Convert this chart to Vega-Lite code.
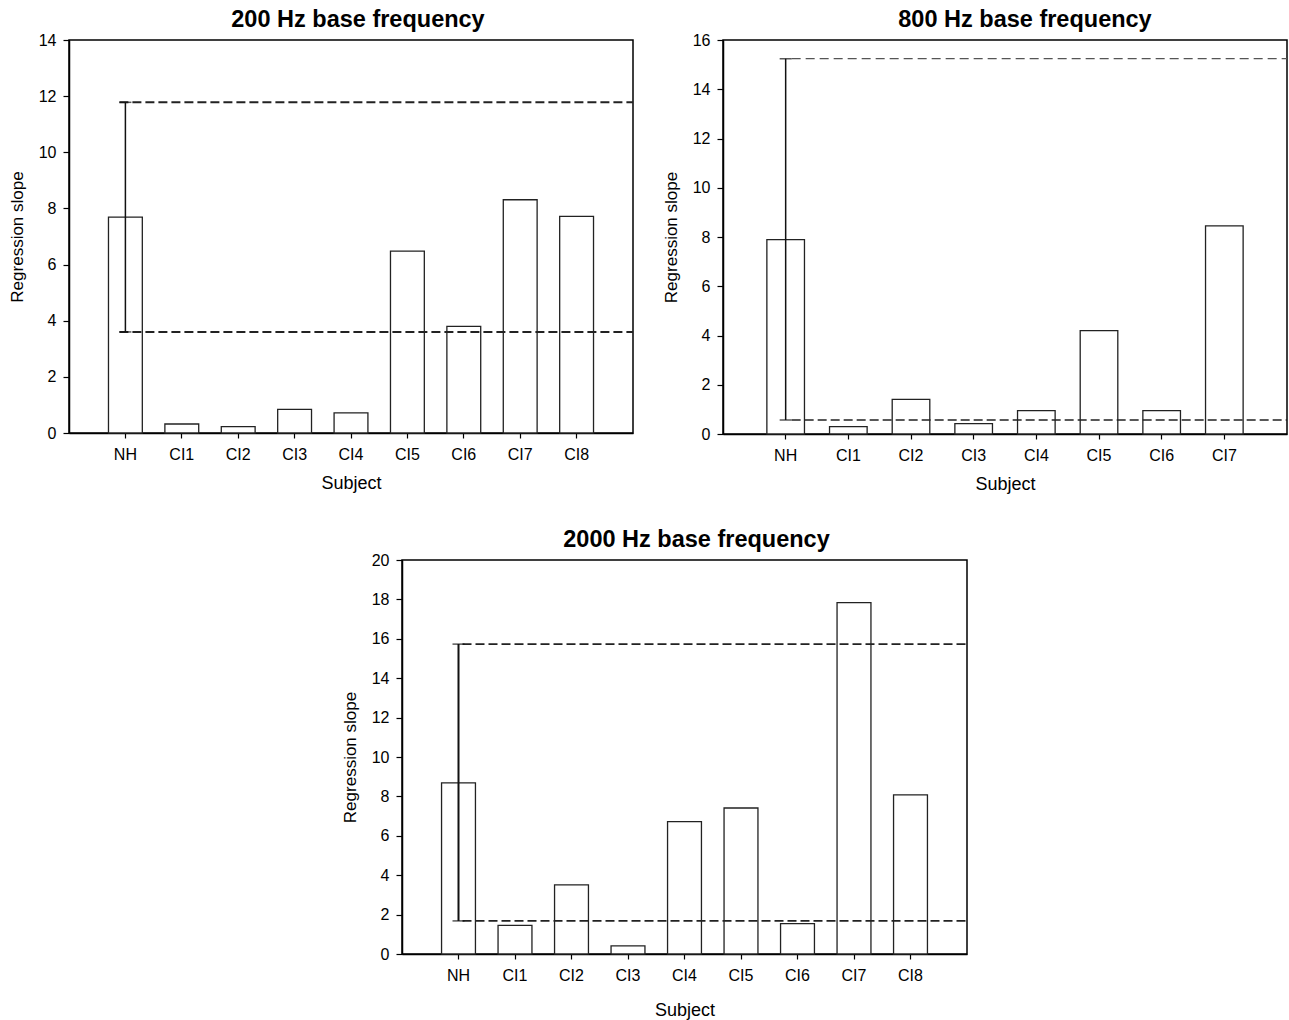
{
  "$schema": "https://vega.github.io/schema/vega-lite/v6.json",
  "padding": {"left": 7, "top": 6, "right": 0, "bottom": 0},
  "background": "white",
  "config": {
    "font": "Liberation Sans",
    "view": {"stroke": "#000", "strokeWidth": 1.5},
    "axis": {"domainColor": "#000", "domainWidth": 1.5, "tickColor": "#000", "tickWidth": 1.2, "labelColor": "#000", "titleColor": "#000", "labelFont": "Liberation Sans", "titleFont": "Liberation Sans", "labelFontSize": 16, "titleFontSize": 17, "titleFontWeight": "normal", "grid": false, "labelOverlap": false},
    "axisX": {"labelAngle": 0, "tickSize": 5, "labelPadding": 8, "titlePadding": 12, "titleFontSize": 18},
    "axisY": {"tickSize": 6, "labelPadding": 7, "titlePadding": 12},
    "title": {"font": "Liberation Sans", "fontSize": 23.5, "fontWeight": "bold", "color": "#000", "anchor": "middle", "offset": 1}
  },
  "datasets": {
    "f200": [
      {"subject": "NH", "slope": 7.69, "lo": 3.6, "hi": 11.78},
      {"subject": "CI1", "slope": 0.32},
      {"subject": "CI2", "slope": 0.23},
      {"subject": "CI3", "slope": 0.84},
      {"subject": "CI4", "slope": 0.72},
      {"subject": "CI5", "slope": 6.48},
      {"subject": "CI6", "slope": 3.8},
      {"subject": "CI7", "slope": 8.31},
      {"subject": "CI8", "slope": 7.72}
    ],
    "f800": [
      {"subject": "NH", "slope": 7.89, "lo": 0.57, "hi": 15.24},
      {"subject": "CI1", "slope": 0.3},
      {"subject": "CI2", "slope": 1.41},
      {"subject": "CI3", "slope": 0.42},
      {"subject": "CI4", "slope": 0.95},
      {"subject": "CI5", "slope": 4.2},
      {"subject": "CI6", "slope": 0.95},
      {"subject": "CI7", "slope": 8.45}
    ],
    "f2000": [
      {"subject": "NH", "slope": 8.69, "lo": 1.68, "hi": 15.73},
      {"subject": "CI1", "slope": 1.45},
      {"subject": "CI2", "slope": 3.51},
      {"subject": "CI3", "slope": 0.41},
      {"subject": "CI4", "slope": 6.72},
      {"subject": "CI5", "slope": 7.41},
      {"subject": "CI6", "slope": 1.54},
      {"subject": "CI7", "slope": 17.84},
      {"subject": "CI8", "slope": 8.08}
    ]
  },
  "spacing": 32,
  "vconcat": [
    {
      "spacing": 26,
      "hconcat": [
        {
          "title": {"text": "200 Hz base frequency", "dx": 7},
          "width": 564, "height": 393,
          "data": {"name": "f200"},
          "encoding": {"x": {"field": "subject", "type": "nominal", "sort": null, "scale": {"paddingInner": 0.4, "paddingOuter": 0.7}, "axis": {"title": "Subject"}}},
          "layer": [
            {"mark": {"type": "bar", "fill": "white", "stroke": "#222", "strokeWidth": 1.3},
             "encoding": {"y": {"field": "slope", "type": "quantitative", "scale": {"domain": [0, 14], "nice": false}, "axis": {"title": "Regression slope", "values": [0, 2, 4, 6, 8, 10, 12, 14], "labelOverlap": false}}}},
            {"transform": [{"filter": "isValid(datum.hi)"}], "mark": {"type": "rule", "strokeDash": [9, 4], "strokeWidth": 2, "color": "#222", "xOffset": -6},
             "encoding": {"y": {"field": "hi", "type": "quantitative", "axis": {"title": "Regression slope", "values": [0, 2, 4, 6, 8, 10, 12, 14], "labelOverlap": false}}, "x2": {"value": "width"}}},
            {"transform": [{"filter": "isValid(datum.lo)"}], "mark": {"type": "rule", "strokeDash": [9, 4], "strokeWidth": 2, "color": "#222", "xOffset": -6},
             "encoding": {"y": {"field": "lo", "type": "quantitative", "axis": {"title": "Regression slope", "values": [0, 2, 4, 6, 8, 10, 12, 14], "labelOverlap": false}}, "x2": {"value": "width"}}},
            {"transform": [{"filter": "isValid(datum.lo)"}], "mark": {"type": "rule", "strokeWidth": 1.5, "color": "#111"},
             "encoding": {"y": {"field": "lo", "type": "quantitative", "axis": {"title": "Regression slope", "values": [0, 2, 4, 6, 8, 10, 12, 14], "labelOverlap": false}}, "y2": {"field": "hi"}}},
            {"transform": [{"filter": "isValid(datum.lo)"}], "mark": {"type": "tick", "size": 12, "thickness": 1.5, "color": "#111"},
             "encoding": {"y": {"field": "lo", "type": "quantitative", "axis": {"title": "Regression slope", "values": [0, 2, 4, 6, 8, 10, 12, 14], "labelOverlap": false}}}},
            {"transform": [{"filter": "isValid(datum.hi)"}], "mark": {"type": "tick", "size": 12, "thickness": 1.5, "color": "#111"},
             "encoding": {"y": {"field": "hi", "type": "quantitative", "axis": {"title": "Regression slope", "values": [0, 2, 4, 6, 8, 10, 12, 14], "labelOverlap": false}}}}
          ]
        },
        {
          "title": {"text": "800 Hz base frequency", "dx": 20},
          "width": 564, "height": 394,
          "data": {"name": "f800"},
          "encoding": {"x": {"field": "subject", "type": "nominal", "sort": null, "scale": {"paddingInner": 0.4, "paddingOuter": 0.7}, "axis": {"title": "Subject"}}},
          "layer": [
            {"mark": {"type": "bar", "fill": "white", "stroke": "#222", "strokeWidth": 1.3},
             "encoding": {"y": {"field": "slope", "type": "quantitative", "scale": {"domain": [0, 16], "nice": false}, "axis": {"title": "Regression slope", "values": [0, 2, 4, 6, 8, 10, 12, 14, 16], "labelOverlap": false}}}},
            {"transform": [{"filter": "isValid(datum.hi)"}], "mark": {"type": "rule", "strokeDash": [9, 5], "strokeWidth": 1.2, "color": "#555", "xOffset": 6},
             "encoding": {"y": {"field": "hi", "type": "quantitative", "axis": {"title": "Regression slope", "values": [0, 2, 4, 6, 8, 10, 12, 14, 16], "labelOverlap": false}}, "x2": {"value": "width"}}},
            {"transform": [{"filter": "isValid(datum.lo)"}], "mark": {"type": "rule", "strokeDash": [9, 4], "strokeWidth": 1.6, "color": "#222", "xOffset": 6},
             "encoding": {"y": {"field": "lo", "type": "quantitative", "axis": {"title": "Regression slope", "values": [0, 2, 4, 6, 8, 10, 12, 14, 16], "labelOverlap": false}}, "x2": {"value": "width"}}},
            {"transform": [{"filter": "isValid(datum.lo)"}], "mark": {"type": "rule", "strokeWidth": 1.5, "color": "#111"},
             "encoding": {"y": {"field": "lo", "type": "quantitative", "axis": {"title": "Regression slope", "values": [0, 2, 4, 6, 8, 10, 12, 14, 16], "labelOverlap": false}}, "y2": {"field": "hi"}}},
            {"transform": [{"filter": "isValid(datum.lo)"}], "mark": {"type": "tick", "size": 12, "thickness": 1.5, "color": "#111"},
             "encoding": {"y": {"field": "lo", "type": "quantitative", "axis": {"title": "Regression slope", "values": [0, 2, 4, 6, 8, 10, 12, 14, 16], "labelOverlap": false}}}},
            {"transform": [{"filter": "isValid(datum.hi)"}], "mark": {"type": "tick", "size": 12, "thickness": 1.5, "color": "#111"},
             "encoding": {"y": {"field": "hi", "type": "quantitative", "axis": {"title": "Regression slope", "values": [0, 2, 4, 6, 8, 10, 12, 14, 16], "labelOverlap": false}}}}
          ]
        }
      ]
    },
    {
      "spacing": 0,
      "hconcat": [
        {
          "width": 271, "height": 10,
          "data": {"values": [{"subject": "spacer"}]},
          "mark": {"type": "point", "opacity": 0},
          "view": {"stroke": null}
        },
        {
          "title": {"text": "2000 Hz base frequency", "dx": 12},
          "width": 565, "height": 394,
          "data": {"name": "f2000"},
          "encoding": {"x": {"field": "subject", "type": "nominal", "sort": null, "scale": {"paddingInner": 0.4, "paddingOuter": 0.7}, "axis": {"title": "Subject", "titlePadding": 18}}},
          "layer": [
            {"mark": {"type": "bar", "fill": "white", "stroke": "#222", "strokeWidth": 1.3},
             "encoding": {"y": {"field": "slope", "type": "quantitative", "scale": {"domain": [0, 20], "nice": false}, "axis": {"title": "Regression slope", "values": [0, 2, 4, 6, 8, 10, 12, 14, 16, 18, 20], "labelOverlap": false}}}},
            {"transform": [{"filter": "isValid(datum.hi)"}], "mark": {"type": "rule", "strokeDash": [9, 4], "strokeWidth": 1.6, "color": "#222", "xOffset": 4},
             "encoding": {"y": {"field": "hi", "type": "quantitative", "axis": {"title": "Regression slope", "values": [0, 2, 4, 6, 8, 10, 12, 14, 16, 18, 20], "labelOverlap": false}}, "x2": {"value": "width"}}},
            {"transform": [{"filter": "isValid(datum.lo)"}], "mark": {"type": "rule", "strokeDash": [9, 4], "strokeWidth": 1.6, "color": "#222", "xOffset": 4},
             "encoding": {"y": {"field": "lo", "type": "quantitative", "axis": {"title": "Regression slope", "values": [0, 2, 4, 6, 8, 10, 12, 14, 16, 18, 20], "labelOverlap": false}}, "x2": {"value": "width"}}},
            {"transform": [{"filter": "isValid(datum.lo)"}], "mark": {"type": "rule", "strokeWidth": 2, "color": "#111"},
             "encoding": {"y": {"field": "lo", "type": "quantitative", "axis": {"title": "Regression slope", "values": [0, 2, 4, 6, 8, 10, 12, 14, 16, 18, 20], "labelOverlap": false}}, "y2": {"field": "hi"}}},
            {"transform": [{"filter": "isValid(datum.lo)"}], "mark": {"type": "tick", "size": 12, "thickness": 1.5, "color": "#111"},
             "encoding": {"y": {"field": "lo", "type": "quantitative", "axis": {"title": "Regression slope", "values": [0, 2, 4, 6, 8, 10, 12, 14, 16, 18, 20], "labelOverlap": false}}}},
            {"transform": [{"filter": "isValid(datum.hi)"}], "mark": {"type": "tick", "size": 12, "thickness": 1.5, "color": "#111"},
             "encoding": {"y": {"field": "hi", "type": "quantitative", "axis": {"title": "Regression slope", "values": [0, 2, 4, 6, 8, 10, 12, 14, 16, 18, 20], "labelOverlap": false}}}}
          ]
        }
      ]
    }
  ]
}
